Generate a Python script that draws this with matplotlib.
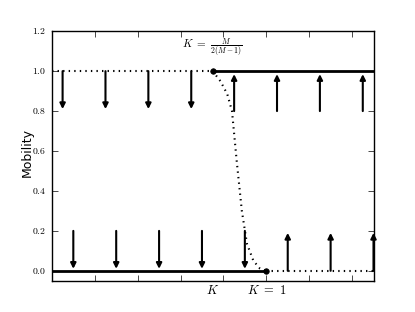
import numpy as np
import matplotlib
matplotlib.use("Agg")
import matplotlib.pyplot as plt
from matplotlib.ticker import FuncFormatter

plt.style.use("classic")
plt.rcParams["mathtext.fontset"] = "cm"

# threshold positions
k_star = 3.75
k_one = 5.0

# dotted transition curve
curve_x = [3.75, 3.93, 4.09, 4.20, 4.31, 4.43, 4.55, 4.70, 4.85, 5.0]
curve_y = [1.0, 0.95, 0.885, 0.80, 0.55, 0.30, 0.135, 0.05, 0.012, 0.0]

# arrows on the upper branch
top_down_x = [0.25, 1.25, 2.25, 3.25]
top_up_x = [4.25, 5.25, 6.25, 7.25]
# arrows on the lower branch
bot_down_x = [0.5, 1.5, 2.5, 3.5, 4.5]
bot_up_x = [5.5, 6.5, 7.5]

fig = plt.figure(figsize=(4.15, 3.12), dpi=100)
ax = fig.add_subplot(111)

x_max = 7.5
# upper branch
ax.plot([0, k_star], [1, 1], "k:", lw=1.5)
ax.plot([k_star, x_max], [1, 1], "k-", lw=2)
# lower branch
ax.plot([0, k_one], [0, 0], "k-", lw=2)
ax.plot([k_one, x_max], [0, 0], "k:", lw=1.5)
# transition
ax.plot(curve_x, curve_y, "k:", lw=1.5)
ax.plot([k_star, k_one], [1, 0], "ko", ms=4, ls="none", mec="k")

arr = dict(arrowstyle="-|>", lw=1.5, color="k", mutation_scale=8,
           shrinkA=0, shrinkB=0)
for x in top_down_x:
    ax.annotate("", xy=(x, 0.81), xytext=(x, 1.0), arrowprops=arr)
for x in top_up_x:
    ax.annotate("", xy=(x, 0.985), xytext=(x, 0.8), arrowprops=arr)
for x in bot_down_x:
    ax.annotate("", xy=(x, 0.01), xytext=(x, 0.2), arrowprops=arr)
for x in bot_up_x:
    ax.annotate("", xy=(x, 0.19), xytext=(x, 0.0), arrowprops=arr)

ax.text(k_star, 1.12, r"$K\ =\ \frac{M}{2(M-1)}$", ha="center", va="center", fontsize=8)
ax.text(k_star, -0.1, r"$K$", ha="center", va="center", fontsize=9)
ax.text(k_one, -0.1, r"$K\ =\ 1$", ha="center", va="center", fontsize=9)

ax.set_xlim(0, x_max)
ax.set_ylim(-0.05, 1.2)
ax.set_xticks(np.arange(0, 8))
ax.set_xticklabels([])
ax.set_yticks(np.arange(0, 1.21, 0.2))
ax.yaxis.set_major_formatter(FuncFormatter(lambda v, p: r"$%.1f$" % v))
ax.tick_params(labelsize=7)
ax.set_ylabel("Mobility", fontsize=9, va="center", ha="center")
ax.yaxis.set_label_coords(-0.077, 0.515)

fig.subplots_adjust(left=0.125, right=0.9, bottom=0.1, top=0.9)
fig.savefig("out.png", dpi=100)
